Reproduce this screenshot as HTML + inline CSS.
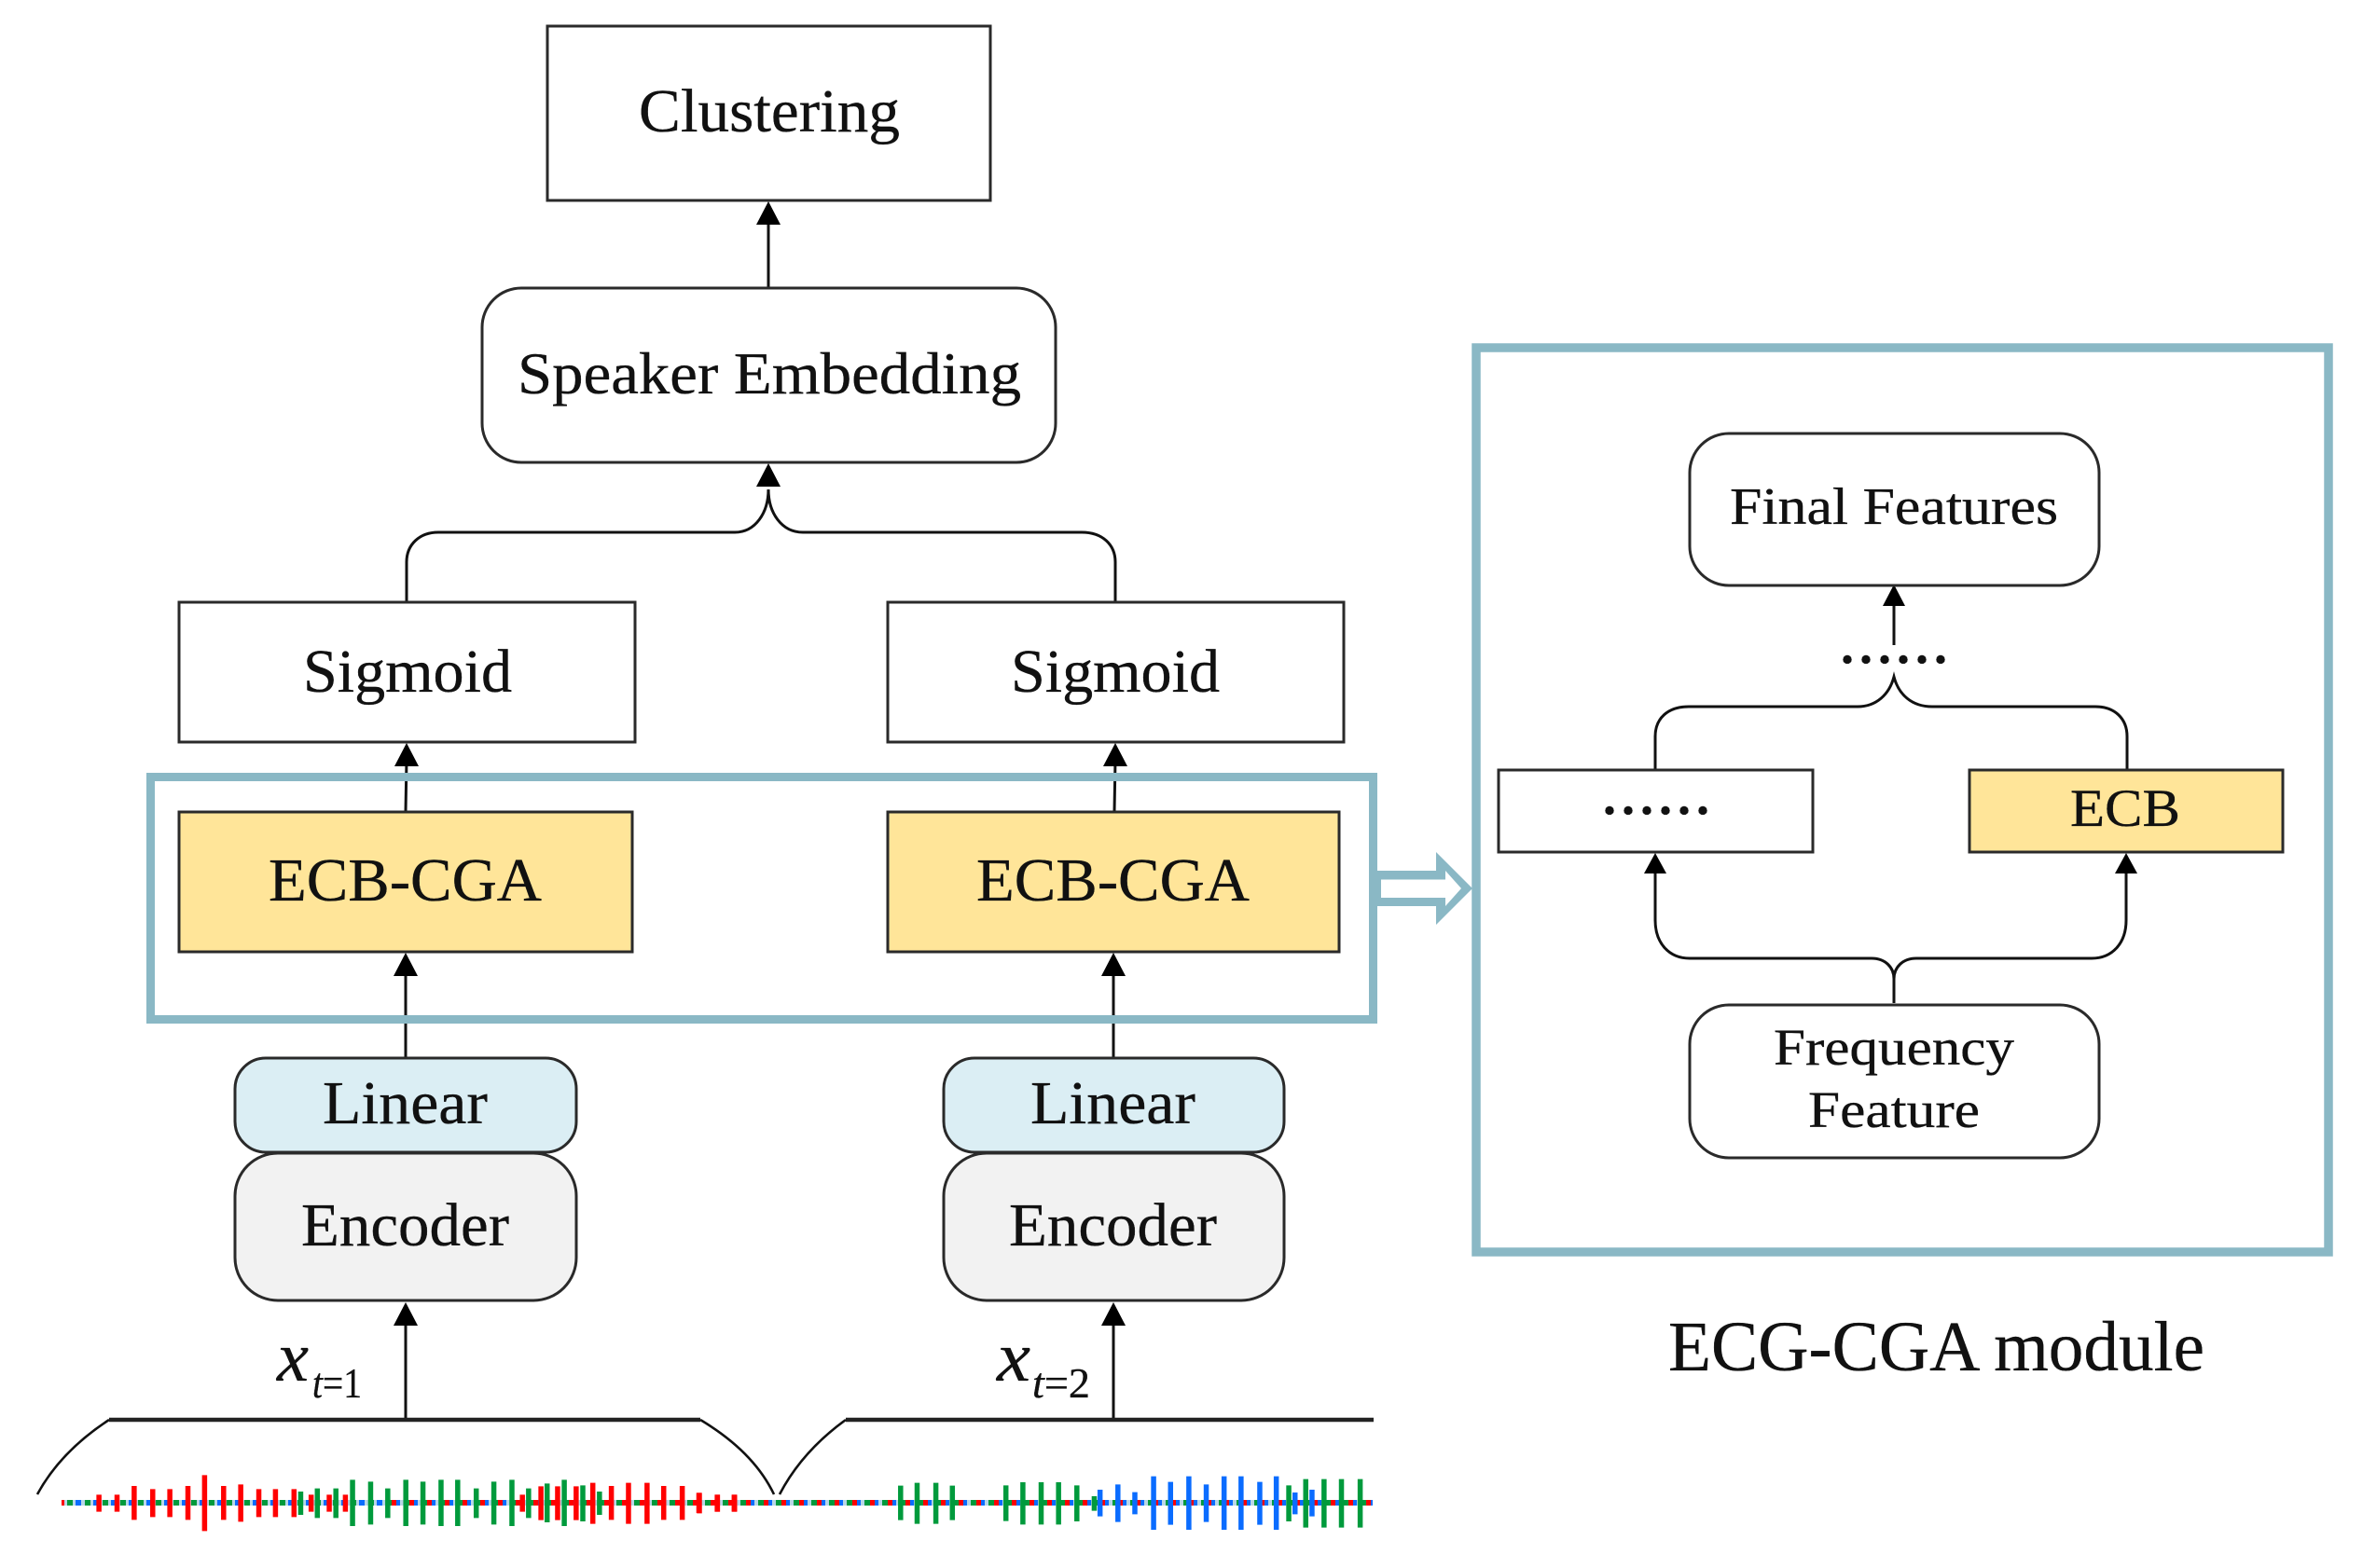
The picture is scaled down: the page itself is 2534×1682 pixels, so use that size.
<!DOCTYPE html>
<html><head><meta charset="utf-8"><title>ECB-CGA diagram</title>
<style>
html,body{margin:0;padding:0;background:#fff}
svg{display:block}
text{font-family:"Liberation Serif","Times New Roman",serif;fill:#111;stroke:#111;stroke-width:.35}
.b{stroke:#2a2a2a;stroke-width:3;fill:#fff}
.l{stroke:#111;stroke-width:3;fill:none}
.w{fill:none}
.w path{vector-effect:non-scaling-stroke;stroke-width:5.500}
</style></head><body>
<svg width="2534" height="1682" viewBox="0 0 2534 1682" xmlns="http://www.w3.org/2000/svg">
<rect width="2534" height="1682" fill="#fff"/>

<!-- left connectors -->
<path class="l" d="M824 308V235"/>
<polygon points="824,216 811,241 837,241"/>
<path class="l" d="M436 646V603C436 584 450 571 470 571H788C810 571 824 550 824 525"/>
<path class="l" d="M1196 646V603C1196 584 1182 571 1160 571H861C838 571 824 550 824 525"/>
<polygon points="824,497 811,522 837,522"/>
<path class="l" d="M435 870L436 815M1195 870L1196 815M435 1134V1040M1194 1134V1040M435 1523V1415M1194 1523V1415"/>
<polygon points="436,797 423,822 449,822"/>
<polygon points="1196,797 1183,822 1209,822"/>
<polygon points="435,1022 422,1047 448,1047"/>
<polygon points="1194,1022 1181,1047 1207,1047"/>
<polygon points="435,1397 422,1422 448,1422"/>
<polygon points="1194,1397 1181,1422 1207,1422"/>

<!-- left boxes -->
<rect class="b" x="587" y="28" width="475" height="187"/>
<text x="685" y="141" font-size="66" textLength="280" lengthAdjust="spacingAndGlyphs">Clustering</text>
<rect class="b" x="517" y="309" width="615" height="187" rx="42"/>
<text x="555" y="422" font-size="64" textLength="540" lengthAdjust="spacingAndGlyphs">Speaker Embedding</text>
<rect class="b" x="192" y="646" width="489" height="150"/>
<rect class="b" x="952" y="646" width="489" height="150"/>
<text x="325" y="742" font-size="66" textLength="224" lengthAdjust="spacingAndGlyphs">Sigmoid</text>
<text x="1084" y="742" font-size="66" textLength="224" lengthAdjust="spacingAndGlyphs">Sigmoid</text>
<rect class="b" x="192" y="871" width="486" height="150" style="fill:#ffe599"/>
<rect class="b" x="952" y="871" width="484" height="150" style="fill:#ffe599"/>
<text x="288" y="966" font-size="66" textLength="293" lengthAdjust="spacingAndGlyphs">ECB-CGA</text>
<text x="1047" y="966" font-size="66" textLength="293" lengthAdjust="spacingAndGlyphs">ECB-CGA</text>
<rect class="b" x="252" y="1135" width="366" height="101" rx="33" style="fill:#dbeef4"/>
<rect class="b" x="1012" y="1135" width="365" height="101" rx="33" style="fill:#dbeef4"/>
<rect class="b" x="252" y="1237" width="366" height="158" rx="46" style="fill:#f2f2f2"/>
<rect class="b" x="1012" y="1237" width="365" height="158" rx="46" style="fill:#f2f2f2"/>
<text x="346" y="1205" font-size="66" textLength="177" lengthAdjust="spacingAndGlyphs">Linear</text>
<text x="1105" y="1205" font-size="66" textLength="177" lengthAdjust="spacingAndGlyphs">Linear</text>
<text x="323" y="1336" font-size="66" textLength="223" lengthAdjust="spacingAndGlyphs">Encoder</text>
<text x="1082" y="1336" font-size="66" textLength="223" lengthAdjust="spacingAndGlyphs">Encoder</text>

<!-- x labels -->
<text x="297" y="1481" font-size="76" font-style="italic" textLength="34" lengthAdjust="spacingAndGlyphs">x</text>
<text x="335" y="1499" font-size="46" textLength="53" lengthAdjust="spacingAndGlyphs"><tspan font-style="italic">t</tspan>=1</text>
<text x="1069" y="1481" font-size="76" font-style="italic" textLength="36" lengthAdjust="spacingAndGlyphs">x</text>
<text x="1107" y="1499" font-size="46" textLength="62" lengthAdjust="spacingAndGlyphs"><tspan font-style="italic">t</tspan>=2</text>

<!-- braces -->
<path d="M117 1523H751M907 1523H1473" stroke="#222" stroke-width="4.500" fill="none"/>
<path class="l" d="M40 1603Q65 1557 117 1523M751 1523Q808 1557 830 1603M836 1603Q860 1557 907 1523" style="stroke-width:2.600"/>

<!-- waveform baseline -->
<g fill="none" stroke-width="6">
<path d="M66 1612H1472" stroke="#b9d6e8"/>
<path d="M72 1612H1472" stroke="#009a3c" stroke-dasharray="6 13"/>
<path d="M81 1612H1472" stroke="#0a6cff" stroke-dasharray="6 13"/>
<path d="M66 1612H400" stroke="#ff0000" stroke-dasharray="3 35"/>
<path d="M420 1612H1472" stroke="#ff0000" stroke-dasharray="5 14"/>
</g>

<!-- waveform bars left -->
<g transform="translate(0,1540) scale(0.5102,0.33333)" class="w">
<path stroke="#ff0000" d="M208 190V245M246 190V245M282 162V271M321 172V262M357 172V262M395 162V271M430 127V307M470 162V271M506 157V277M544 172V262M579 172V262M618 172V262M654 190V245M692 190V245M726 190V245"/>
<path stroke="#009a3c" d="M632 180V255M667 170V265M706 170V265M741 142V291M779 148V286M815 170V265M853 142V291M889 148V286M927 142V291M962 142V291M1001 170V265M1038 148V286M1076 142V291"/>
<path stroke="#ff0000" d="M1098 190V245M1137 163V272M1172 163V272M1211 163V272M1246 152V284M1285 162V271M1321 152V284M1360 152V284M1395 162V271M1434 162V271M1469 184V249M1508 190V245M1544 190V245"/>
<path stroke="#009a3c" d="M1111 170V265M1150 154V279M1186 142V291M1225 160V276M1260 180V255"/>
</g>
<!-- waveform bars right -->
<g transform="translate(750,1540) scale(0.47847,0.33333)" class="w">
<path stroke="#ff0000" d="M0 184V250M40 190V245M78 190V245"/>
<path stroke="#009a3c" d="M451 161V272M488 152V284M530 152V284M567 161V272M687 160V275M725 150V286M766 150V286M805 150V286M846 160V276M885 195V242M1321 160V276M1359 140V296M1400 140V296M1439 140V296M1481 140V296"/>
<path stroke="#0a6cff" d="M898 174V260M938 157V278M976 182V253M1018 131V303M1056 149V287M1097 131V303M1136 157V278M1176 131V303M1214 131V303M1256 149V287M1293 131V303M1335 183V253M1373 174V260"/>
</g>

<!-- teal frames and arrow -->
<rect x="161.500" y="833.500" width="1311" height="260" fill="none" stroke="#8ab8c5" stroke-width="9"/>
<path fill-rule="evenodd" fill="#8ab8c5" d="M1477 934H1540V914L1579 953L1540 992V972H1477ZM1481 943.500V963H1550V972L1567 953L1550 934V943.500Z"/>
<rect x="1583" y="373" width="914" height="970" fill="none" stroke="#8ab8c5" stroke-width="9.500"/>

<!-- right connectors -->
<path class="l" d="M2031 692V640"/>
<polygon points="2031,627 2019,650 2043,650"/>
<path class="l" d="M1775 825V790C1775 771 1788 758 1811 758H1992C2012 758 2026 745 2031 726C2036 745 2050 758 2072 758H2247C2268 758 2281 771 2281 790V825"/>
<path class="l" d="M1775 930V987C1775 1012 1790 1028 1812 1028H2007C2022 1028 2031 1038 2031 1050C2031 1038 2040 1028 2055 1028H2243C2265 1028 2280 1012 2280 987V930M2031 1050V1076"/>
<polygon points="1775,915 1763,937 1787,937"/>
<polygon points="2280,915 2268,937 2292,937"/>

<!-- right boxes -->
<rect class="b" x="1812" y="465" width="439" height="163" rx="42"/>
<text x="1855" y="562" font-size="56" textLength="352" lengthAdjust="spacingAndGlyphs">Final Features</text>
<text x="1974" y="711" font-size="56" font-weight="bold" textLength="114" lengthAdjust="spacing">......</text>
<rect class="b" x="1607" y="826" width="337" height="88"/>
<text x="1719" y="873" font-size="56" font-weight="bold" textLength="114" lengthAdjust="spacing">......</text>
<rect class="b" x="2112" y="826" width="336" height="88" style="fill:#ffe599"/>
<text x="2220" y="886" font-size="57" textLength="118" lengthAdjust="spacingAndGlyphs">ECB</text>
<rect class="b" x="1812" y="1078" width="439" height="164" rx="42"/>
<text x="1902" y="1142" font-size="55" textLength="258" lengthAdjust="spacingAndGlyphs">Frequency</text>
<text x="1939" y="1209" font-size="55" textLength="184" lengthAdjust="spacingAndGlyphs">Feature</text>

<!-- caption -->
<text x="1789" y="1470" font-size="76" textLength="575" lengthAdjust="spacingAndGlyphs">ECG-CGA module</text>
</svg>
</body></html>
